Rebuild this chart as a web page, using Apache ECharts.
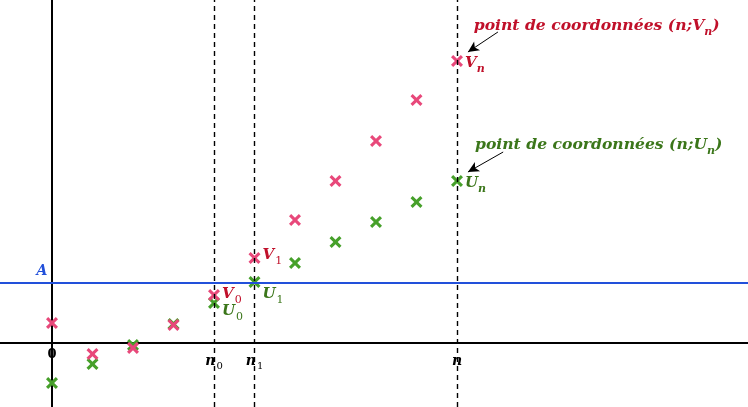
<!DOCTYPE html>
<html><head><meta charset="utf-8">
<script src="https://cdn.jsdelivr.net/npm/echarts@6/dist/echarts.min.js"></script>
<style>html,body{margin:0;padding:0;background:#fff}#c{width:748px;height:407px}</style>
</head><body><div id="c"></div>
<script>
// ---- data ----
const ranks = [0,1,2,3,4,5,6,7,8,9,10];
const V = [1.0,-0.55,-0.25,0.9,2.4,4.25,6.15,8.1,10.1,12.15,14.1];
const U = [-2.0,-1.05,-0.1,0.95,2.0,3.05,4.0,5.05,6.05,7.05,8.1];
const A = 3;
const dashedRanks = [4,5,10];           // n0, n1, n
const rankNames = ['{m|n}{s|0}','{m|n}{s|1}','{m|n}'];
const vPointLabels = {4:'{m|V}{s|0}',5:'{m|V}{s|1}',10:'{m|V}{si|n}'};
const uPointLabels = {4:'{m|U}{s|0}',5:'{m|U}{s|1}',10:'{m|U}{si|n}'};
const noteV = '{m|point de coordonnées (n;V}{si|n}{m|)}';
const noteU = '{m|point de coordonnées (n;U}{si|n}{m|)}';

const PINK='#e8487a', GREEN='#46a02a', RED='#c0102a', DGREEN='#3b761a', BLUE='#2250da';
const XSYM='path://M18,0L50,32L82,0L100,18L68,50L100,82L82,100L50,68L18,100L0,82L32,50L0,18Z';
const FONT='DejaVu Serif';
function rich(color, size){
  const ss=Math.round(size*0.72);
  const base={fontFamily:FONT,color:color,verticalAlign:'top'};
  return {
    m:Object.assign({},base,{fontStyle:'italic',fontWeight:'bold',fontSize:size,lineHeight:size+2}),
    s:Object.assign({},base,{fontStyle:'normal',fontWeight:'normal',fontSize:ss,lineHeight:ss,padding:[Math.round(size*0.5),0,0,1]}),
    si:Object.assign({},base,{fontStyle:'italic',fontWeight:'bold',fontSize:ss,lineHeight:ss,padding:[Math.round(size*0.5),0,0,0]})
  };
}
function ptData(vals, labels, color, offset){
  return ranks.map((x,i)=>{
    const d={value:[x,vals[i]]};
    if(labels[x]) d.label={show:true,position:'right',distance:2,offset:offset[x]||[0,0],formatter:labels[x],rich:rich(color,15)};
    return d;
  });
}
const chart = echarts.init(document.getElementById('c'));
chart.setOption({
  animation:false,
  grid:{left:0,right:0,top:0,bottom:0},
  xAxis:{type:'value',min:-1.284,max:17.185,splitLine:{show:false},axisTick:{show:false},axisLabel:{show:false},
    axisLine:{show:true,onZero:true,lineStyle:{color:'#000',width:2}}},
  yAxis:{type:'value',min:-3.2,max:17.15,splitLine:{show:false},axisTick:{show:false},axisLabel:{show:false},
    axisLine:{show:true,onZero:true,lineStyle:{color:'#000',width:2}}},
  series:[
    {type:'scatter',name:'lines',data:[],silent:true,
      markLine:{silent:true,symbol:'none',animation:false,label:{show:false},
        data:[
          ...dashedRanks.map(x=>({xAxis:x,lineStyle:{type:[5,4],color:'#000',width:1.4,opacity:1}})),
          {yAxis:A,lineStyle:{type:'solid',color:BLUE,width:2,opacity:1}}
        ]}},
    {type:'scatter',name:'U',symbol:XSYM,symbolSize:12,itemStyle:{color:GREEN,opacity:1},z:3,
      data:ptData(U,uPointLabels,DGREEN,{4:[0,9],5:[0,13],10:[0,3]})},
    {type:'scatter',name:'V',symbol:XSYM,symbolSize:12,itemStyle:{color:PINK,opacity:1},z:4,
      data:ptData(V,vPointLabels,RED,{4:[0,0],5:[0,-2],10:[0,3]})},
    {type:'scatter',name:'texts',symbolSize:0,silent:true,itemStyle:{opacity:1},
      data:[
        {value:[0,-0.6],label:{show:true,position:'inside',formatter:'{s|0}',rich:Object.assign(rich('#000',14),{s:{fontFamily:FONT,fontSize:13,color:'#000',fontWeight:'bold'}})}},
        ...dashedRanks.map((x,i)=>({value:[x,-0.95],label:{show:true,position:'inside',formatter:rankNames[i],rich:rich('#000',14)}})),
        {value:[-0.247,3.55],label:{show:true,position:'inside',formatter:'{m|A}',rich:rich(BLUE,14)}},
        {value:[13.45,15.8],label:{show:true,position:'inside',formatter:noteV,rich:rich(RED,15.6)}},
        {value:[13.5,9.85],label:{show:true,position:'inside',formatter:noteU,rich:rich(DGREEN,15.6)}}
      ],
      markLine:{silent:true,symbol:['none','arrow'],symbolSize:[8,11],label:{show:false},lineStyle:{type:'solid',color:'#000',width:1,opacity:1},
        data:[
          [{coord:[11.01,15.55]},{coord:[10.27,14.55]}],
          [{coord:[11.14,9.55]},{coord:[10.27,8.55]}]
        ]}}
  ]
});
</script></body></html>
